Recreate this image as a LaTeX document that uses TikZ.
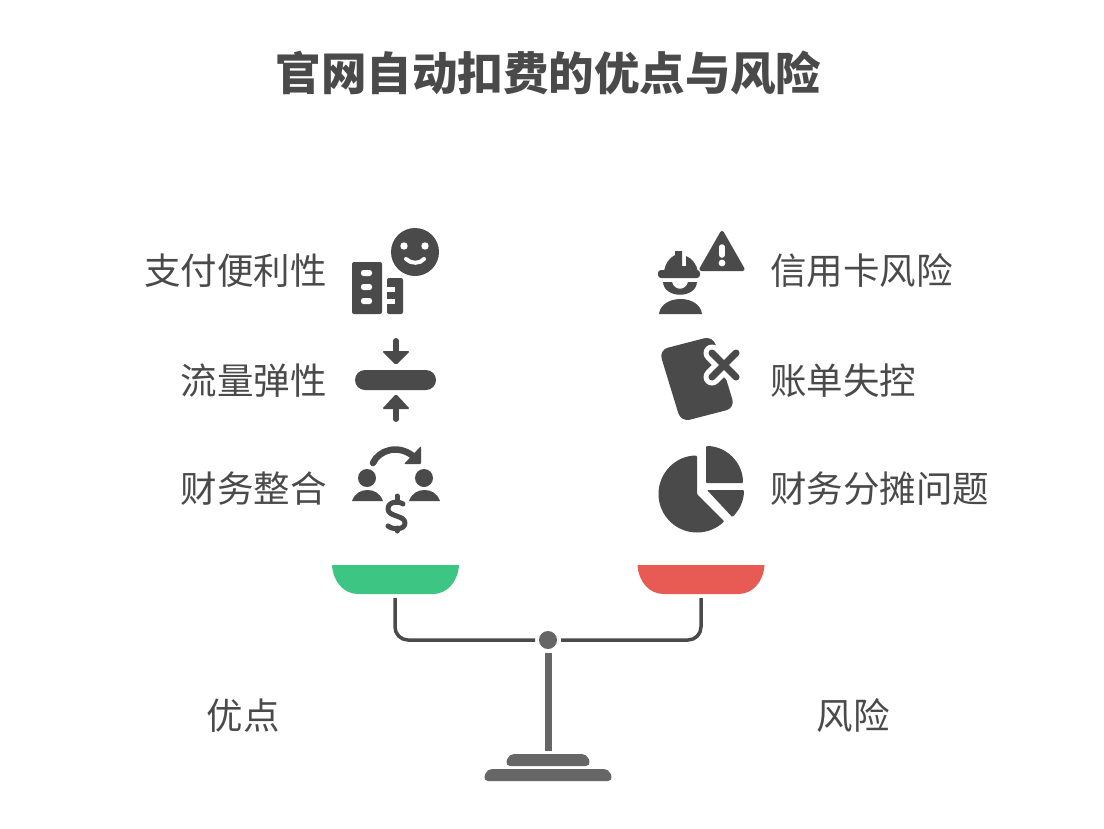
\documentclass[tikz,border=0pt]{standalone}
\usepackage{fontspec}
\newfontfamily\cjk{Noto Sans CJK SC}
\usetikzlibrary{positioning}
\definecolor{ink}{HTML}{4A4A4A}
\definecolor{steel}{HTML}{666666}
\definecolor{pan_green}{HTML}{3CC583}
\definecolor{pan_red}{HTML}{E85B55}
\tikzstyle{title}=[inner sep=0, text=ink, font=\cjk\bfseries\fontsize{45.5}{45.5}\selectfont]
\tikzstyle{label}=[inner sep=0, text=ink, font=\cjk\fontsize{36.5}{36.5}\selectfont]
\tikzstyle{pro}=[label, anchor=east]
\tikzstyle{con}=[label, anchor=west]
\tikzstyle{icon}=[fill=ink, draw=none]
\tikzstyle{cut}=[fill=white, draw=none]
\tikzstyle{pivot}=[circle, fill=steel, minimum size=18pt, inner sep=0, outer sep=4pt]
\tikzstyle{beam}=[draw=ink, line width=3.5pt, rounded corners=13pt]

\begin{document}
\begin{tikzpicture}[x=1pt, y=-1pt]
      \useasboundingbox (0, 0) rectangle (1104, 828);

      \node[title] (title) at (548.5, 73) {官网自动扣费的优点与风险};

      \node[pro] (pay) at (327, 271) {支付便利性};
      \node[pro] (traffic) at (327, 380.5) {流量弹性};
      \node[pro] (finance) at (327, 489) {财务整合};
      \node[con] (card) at (770, 271) {信用卡风险};
      \node[con] (bill) at (770, 380.5) {账单失控};
      \node[con] (share) at (770, 489) {财务分摊问题};
      \node[label] (pros) at (243, 716) {优点};
      \node[label] (cons) at (853, 716) {风险};

      % building and smile
      \fill[icon, rounded corners=2pt] (352, 314) -- (352, 262) -- (382, 262) -- (382, 314) -- cycle;
      \fill[icon, rounded corners=2pt] (387, 314) -- (387, 278) -- (403, 278) -- (403, 314) -- cycle;
      \fill[cut, rounded corners=2.5pt] (361, 270) rectangle (372, 276);
      \fill[cut, rounded corners=2.5pt] (361, 284) rectangle (372, 290);
      \fill[cut, rounded corners=2.5pt] (361, 298) rectangle (372, 304);
      \fill[cut] (386, 287) rectangle (395, 292);
      \fill[cut] (386, 299) rectangle (395, 304);
      \fill[icon] (415, 252) circle[radius=24];
      \fill[cut] (404, 246) circle[radius=3.7];
      \fill[cut] (425, 246) circle[radius=3.7];
      \draw[white, line width=4pt, line cap=round] (406, 259) .. controls (411, 264) and (420, 264) .. (424, 259);

      % squeezed bar
      \fill[icon, rounded corners=10pt] (355, 370) rectangle (436, 390);
      \draw[ink, line width=6pt, line cap=round] (396, 341) -- (396, 354);
      \fill[icon, rounded corners=1.5pt] (382, 351) -- (410, 351) -- (396, 365) -- cycle;
      \draw[ink, line width=6pt, line cap=round] (396, 419) -- (396, 406);
      \fill[icon, rounded corners=1.5pt] (382, 409) -- (410, 409) -- (396, 394) -- cycle;

      % people and dollar
      \draw[ink, line width=6.5pt, line cap=round] (373, 463) .. controls (379, 450) and (398, 444) .. (413, 456);
      \fill[icon, rounded corners=1pt] (421, 446) -- (421, 464) -- (404, 464) -- cycle;
      \fill[icon] (367, 478) circle[radius=9];
      \fill[icon] (424, 478) circle[radius=9];
      \fill[icon] (352, 501) .. controls (355, 493) and (361, 490) .. (367.5, 490) .. controls (374, 490) and (380, 493) .. (383, 501) -- cycle;
      \fill[icon] (409, 501) .. controls (412, 493) and (418, 490) .. (424.5, 490) .. controls (431, 490) and (437, 493) .. (440, 501) -- cycle;
      \draw[ink, line width=5pt, line cap=round, line join=round] (403, 504) .. controls (399, 501) and (388, 501) .. (388, 509) .. controls (388, 517) and (405, 515) .. (405, 523) .. controls (405, 530) and (393, 530) .. (388, 526);
      \draw[ink, line width=5pt, line cap=round] (397, 496) -- (397, 500) (397, 528) -- (397, 531);

      % worker and warning
      \fill[icon, rounded corners=3.5pt] (722, 229) -- (746, 271) -- (698, 271) -- cycle;
      \draw[white, line width=5.5pt, line cap=round] (722, 247) -- (722, 255);
      \fill[cut] (722, 263) circle[radius=3.4];
      \fill[icon] (664, 272) .. controls (665, 264) and (669, 258) .. (675, 255) -- (675, 251) -- (682, 251) -- (682, 266) -- (686, 266) -- (686, 256) .. controls (692, 258) and (697, 265) .. (698, 272) -- cycle;
      \fill[icon, rounded corners=3pt] (658, 270) rectangle (700, 278);
      \fill[icon] (663, 282) -- (672, 282) .. controls (674, 291) and (686, 291) .. (688, 282) -- (697, 282) .. controls (696, 299) and (664, 299) .. (663, 282) -- cycle;
      \fill[icon] (659, 314) .. controls (660, 305) and (669, 299) .. (680.5, 299) .. controls (692, 299) and (701, 305) .. (702, 314) -- cycle;

      % crossed out bill
      \fill[icon, rounded corners=9pt] (659, 350) -- (713, 336) -- (735, 408) -- (681, 422) -- cycle;
      \draw[white, line width=17pt, line cap=round] (712, 353) -- (736, 377) (736, 353) -- (712, 377);
      \draw[ink, line width=7pt, line cap=round] (712, 353) -- (736, 377) (736, 353) -- (712, 377);

      % pie
      \fill[icon, rounded corners=1pt] (697, 494) -- ++(-90:38.5) arc[start angle=-90, end angle=-315, radius=38.5] -- cycle;
      \fill[icon, rounded corners=1pt] (706, 483) -- ++(-90:37) arc[start angle=-90, end angle=0, radius=37] -- cycle;
      \fill[icon, rounded corners=1pt] (707, 490) -- ++(0:37) arc[start angle=0, end angle=47, radius=37] -- cycle;

      % balance
      \fill[pan_green] (332, 565) -- (459, 565) .. controls (458, 582) and (447, 594) .. (433, 594) -- (358, 594) .. controls (344, 594) and (333, 582) .. (332, 565) -- cycle;
      \fill[pan_red] (637.5, 565) -- (764.5, 565) .. controls (763.5, 582) and (752.5, 594) .. (738.5, 594) -- (663.5, 594) .. controls (649.5, 594) and (638.5, 582) .. (637.5, 565) -- cycle;
      \coordinate (hook_l) at (395, 598);
      \coordinate (hook_r) at (701, 598);
      \node[pivot] (pivot) at (548, 640) {};
      \draw[beam] (hook_l) |- (pivot.west);
      \draw[beam] (hook_r) |- (pivot.east);
      \fill[steel] (544.5, 653) rectangle (552, 751);
      \fill[steel, rounded corners=5pt] (505, 766) -- (509, 754) -- (587, 754) -- (591, 766) -- cycle;
      \fill[steel, rounded corners=5pt] (483, 781) -- (487, 769) -- (609, 769) -- (613, 781) -- cycle;
    \end{tikzpicture}
\end{document}
